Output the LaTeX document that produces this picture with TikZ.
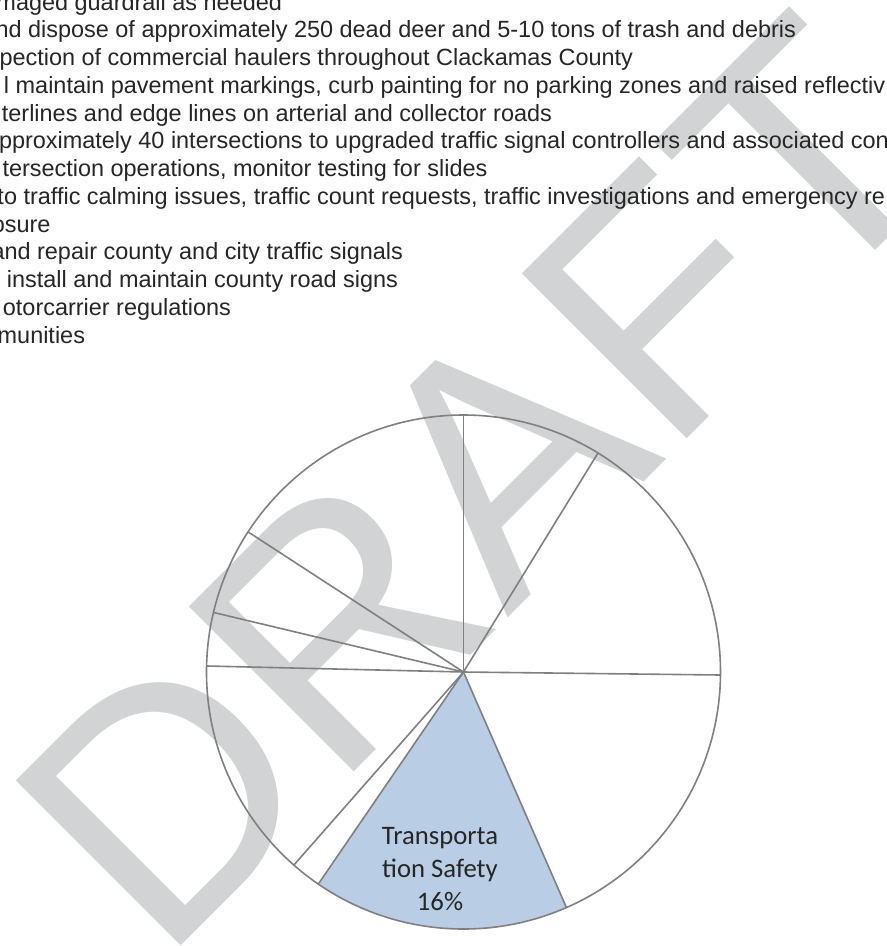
\documentclass[tikz,border=0pt]{standalone}
\usepackage{fontspec}
\setmainfont{Liberation Sans}
\newfontfamily\labfont{Carlito}
\newfontfamily\wmfont{Liberation Sans}
\definecolor{txt}{HTML}{262626}
\definecolor{wmgray}{HTML}{D1D3D4}
\definecolor{pieline}{HTML}{808080}
\definecolor{safety}{HTML}{B9CDE5}
\tikzset{
  listline/.style={inner sep=0pt, outer sep=0pt, text=txt, font=\fontsize{23.45}{27.75}\selectfont},
  wmark/.style={inner sep=0pt, outer sep=0pt, text=wmgray, font=\wmfont\fontsize{339}{339}\selectfont, rotate=45},
  piestroke/.style={draw=pieline, line width=1.6pt},
  slicelabel/.style={inner sep=0pt, align=center, text=txt, font=\labfont\fontsize{26.7}{32.8}\selectfont},
}
\begin{document}
\begin{tikzpicture}[x=1pt,y=-1pt]
\fill[white] (0,0) rectangle (887,946);
\useasboundingbox (0,0) rectangle (887,946);
% watermark
\node[wmark, anchor=base west] (wm) at (161,965) {DRAFT};
% text lines
\node[listline, anchor=base east] (l1) at (282,10) {maged guardrail as needed};
\node[listline, anchor=base east] (l2) at (796,37.75) {nd dispose of approximately 250 dead deer and 5-10 tons of trash and debris};
\node[listline, anchor=base east] (l3) at (633,65.5) {pection of commercial haulers throughout Clackamas County};
\node[listline, anchor=base west] (l4) at (4,93.25) {l maintain pavement markings, curb painting for no parking zones and raised reflectiv};
\node[listline, anchor=base east] (l5) at (552,121) {terlines and edge lines on arterial and collector roads};
\node[listline, anchor=base west] (l6) at (-1,148.75) {pproximately 40 intersections to upgraded traffic signal controllers and associated con};
\node[listline, anchor=base west] (l7) at (2.5,176.5) {tersection operations, monitor testing for slides};
\node[listline, anchor=base west] (l8) at (-2.5,204.25) {to traffic calming issues, traffic count requests, traffic investigations and emergency re};
\node[listline, anchor=base east] (l9) at (50.5,232) {osure};
\node[listline, anchor=base east] (l10) at (403,259.75) {and repair county and city traffic signals};
\node[listline, anchor=base east] (l11) at (398,287.5) {install and maintain county road signs};
\node[listline, anchor=base east] (l12) at (231,315.25) {otorcarrier regulations};
\node[listline, anchor=base east] (l13) at (85,343) {munities};
% pie
\begin{scope}[shift={(463.5,672)}]
  \coordinate (c) at (0,0);
  \fill[safety] (c) -- (235.6:257pt) arc[start angle=235.6, end angle=293.6, radius=257pt] -- cycle;
  \draw[piestroke] (c) circle[radius=257pt];
  \foreach \a/\n in {90/r1, 58.45/r2, -0.67/r3, -66.4/r4, 235.6/r5, 228.7/r6, 178.66/r7, 166.6/r8, 146.96/r9} {
    \coordinate (\n) at (\a:257pt);
    \draw[piestroke] (c) -- (\n);
  }
\end{scope}
\node[slicelabel] (lab) at (440,869.3) {Transporta\\tion Safety\\16\%};
\end{tikzpicture}
\end{document}
